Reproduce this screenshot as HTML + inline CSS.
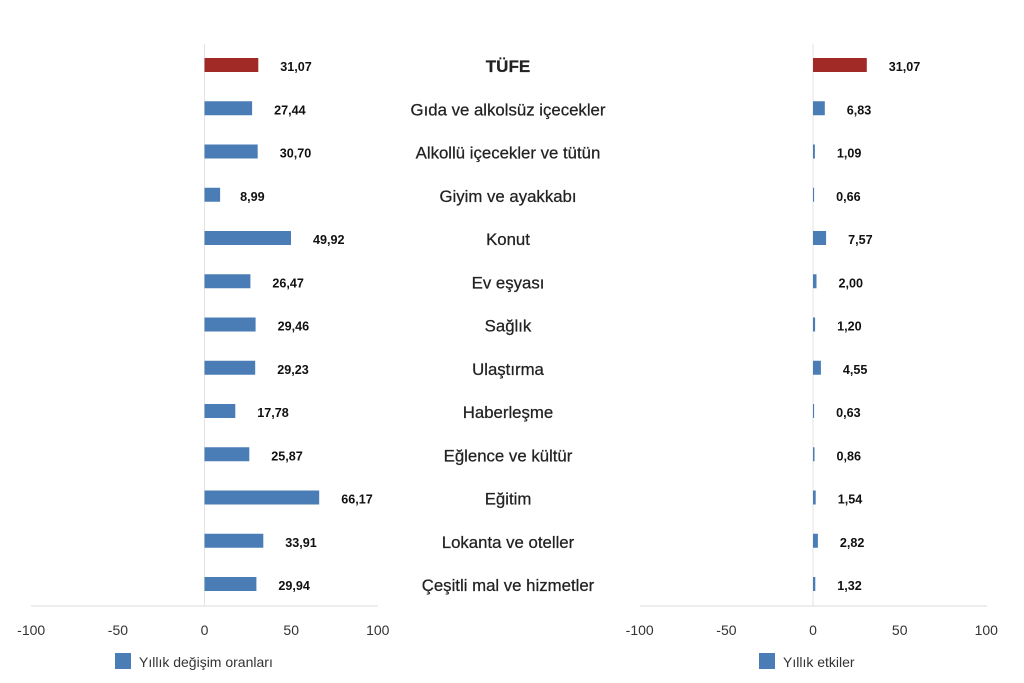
<!DOCTYPE html>
<html><head><meta charset="utf-8"><style>
body{margin:0;background:#fff}
svg{display:block;font-family:"Liberation Sans",Arial,sans-serif}
.v{font-size:12.6px;font-weight:bold;fill:#111}
.c{font-size:16.8px;fill:#222;text-anchor:middle;font-weight:500;stroke:#222;stroke-width:0.25}
.t{font-size:14px;fill:#333;text-anchor:middle}
</style></head><body>
<svg width="1024" height="683" viewBox="0 0 1024 683" xmlns="http://www.w3.org/2000/svg">
<line x1="204.5" y1="44" x2="204.5" y2="606" stroke="#e3e3e3"/>
<line x1="31" y1="606" x2="378" y2="606" stroke="#dcdcdc"/>
<line x1="813" y1="44" x2="813" y2="606" stroke="#e3e3e3"/>
<line x1="640" y1="606" x2="987" y2="606" stroke="#dcdcdc"/>
<text class="t" x="31.2" y="635">-100</text><text class="t" x="117.9" y="635">-50</text><text class="t" x="204.5" y="635">0</text><text class="t" x="291.2" y="635">50</text><text class="t" x="377.8" y="635">100</text>
<text class="t" x="639.7" y="635">-100</text><text class="t" x="726.4" y="635">-50</text><text class="t" x="813" y="635">0</text><text class="t" x="899.7" y="635">50</text><text class="t" x="986.3" y="635">100</text>

<g fill="#4a7db5">
<rect x="204.5" y="58" width="53.8" height="14" fill="#a12a27"/>
<rect x="204.5" y="101.25" width="47.6" height="14"/>
<rect x="204.5" y="144.5" width="53.2" height="14"/>
<rect x="204.5" y="187.75" width="15.6" height="14"/>
<rect x="204.5" y="231" width="86.5" height="14"/>
<rect x="204.5" y="274.25" width="45.9" height="14"/>
<rect x="204.5" y="317.5" width="51.1" height="14"/>
<rect x="204.5" y="360.75" width="50.7" height="14"/>
<rect x="204.5" y="404" width="30.8" height="14"/>
<rect x="204.5" y="447.25" width="44.8" height="14"/>
<rect x="204.5" y="490.5" width="114.7" height="14"/>
<rect x="204.5" y="533.75" width="58.8" height="14"/>
<rect x="204.5" y="577" width="51.9" height="14"/>
<rect x="813" y="58" width="53.8" height="14" fill="#a12a27"/>
<rect x="813" y="101.25" width="11.8" height="14"/>
<rect x="813" y="144.5" width="1.9" height="14"/>
<rect x="813" y="187.75" width="1.1" height="14"/>
<rect x="813" y="231" width="13.1" height="14"/>
<rect x="813" y="274.25" width="3.5" height="14"/>
<rect x="813" y="317.5" width="2.1" height="14"/>
<rect x="813" y="360.75" width="7.9" height="14"/>
<rect x="813" y="404" width="1.1" height="14"/>
<rect x="813" y="447.25" width="1.5" height="14"/>
<rect x="813" y="490.5" width="2.7" height="14"/>
<rect x="813" y="533.75" width="4.9" height="14"/>
<rect x="813" y="577" width="2.3" height="14"/>
</g>

<text class="v" x="280.3" y="71">31,07</text>
<text class="v" x="274.1" y="114.25">27,44</text>
<text class="v" x="279.7" y="157.5">30,70</text>
<text class="v" x="240.1" y="200.75">8,99</text>
<text class="v" x="313" y="244">49,92</text>
<text class="v" x="272.4" y="287.25">26,47</text>
<text class="v" x="277.6" y="330.5">29,46</text>
<text class="v" x="277.2" y="373.75">29,23</text>
<text class="v" x="257.3" y="417">17,78</text>
<text class="v" x="271.3" y="460.25">25,87</text>
<text class="v" x="341.2" y="503.5">66,17</text>
<text class="v" x="285.3" y="546.75">33,91</text>
<text class="v" x="278.4" y="590">29,94</text>

<text class="v" x="888.8" y="71">31,07</text>
<text class="v" x="846.8" y="114.25">6,83</text>
<text class="v" x="836.9" y="157.5">1,09</text>
<text class="v" x="836.1" y="200.75">0,66</text>
<text class="v" x="848.1" y="244">7,57</text>
<text class="v" x="838.5" y="287.25">2,00</text>
<text class="v" x="837.1" y="330.5">1,20</text>
<text class="v" x="842.9" y="373.75">4,55</text>
<text class="v" x="836.1" y="417">0,63</text>
<text class="v" x="836.5" y="460.25">0,86</text>
<text class="v" x="837.7" y="503.5">1,54</text>
<text class="v" x="839.9" y="546.75">2,82</text>
<text class="v" x="837.3" y="590">1,32</text>

<text class="c" x="508" y="72" style="font-size:17px;font-weight:bold">TÜFE</text>
<text class="c" x="508" y="115.25">Gıda ve alkolsüz içecekler</text>
<text class="c" x="508" y="158.5">Alkollü içecekler ve tütün</text>
<text class="c" x="508" y="201.75">Giyim ve ayakkabı</text>
<text class="c" x="508" y="245">Konut</text>
<text class="c" x="508" y="288.25">Ev eşyası</text>
<text class="c" x="508" y="331.5">Sağlık</text>
<text class="c" x="508" y="374.75">Ulaştırma</text>
<text class="c" x="508" y="418">Haberleşme</text>
<text class="c" x="508" y="461.25">Eğlence ve kültür</text>
<text class="c" x="508" y="504.5">Eğitim</text>
<text class="c" x="508" y="547.75">Lokanta ve oteller</text>
<text class="c" x="508" y="591">Çeşitli mal ve hizmetler</text>

<rect x="115" y="653" width="16" height="16" fill="#4a7db5"/><text x="139" y="667" font-size="14" fill="#333">Yıllık değişim oranları</text>
<rect x="759" y="653" width="16" height="16" fill="#4a7db5"/><text x="783" y="667" font-size="14" fill="#333">Yıllık etkiler</text>
</svg>
</body></html>
